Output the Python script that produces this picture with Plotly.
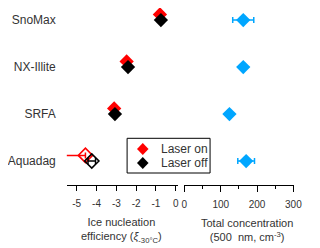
import plotly.graph_objects as go

# ---- data ----
categories = ["Aquadag", "SRFA", "NX-Illite", "SnoMax"]
ine_laser_on = [-4.56, -3.11, -2.48, -0.80]
ine_laser_on_err_minus = [1.07, 0, 0, 0]
ine_laser_off = [-4.24, -3.07, -2.41, -0.75]
ine_laser_off_err = [0.19, 0, 0, 0]
total_conc = [170, 124, 162, 162]
total_conc_err = [23, 0, 0, 29]
ine_ticks = [-5, -4, -3, -2, -1, 0]
conc_ticks = [0, 100, 200, 300]
conc_minor = [50, 150, 250]

OFF = 8  # default page margin of the html body
W, H = 320 - OFF, 248 - OFF
FONT = "Liberation Sans, Arial, sans-serif"
TXT = "#333333"
RED = "#FF0000"
BLUE = "#00A6FF"


def px(x):
    return (x - OFF) / W


def py(y):
    return 1 - (y - OFF) / H


def diamond_path(cx, cy, r):
    pts = [(cx, cy - r), (cx + r, cy), (cx, cy + r), (cx - r, cy)]
    return "M " + " L ".join(f"{px(a):.5f},{py(b):.5f}" for a, b in pts) + " Z"


ypos = list(range(len(categories)))
off = 0.12
symbols = ["diamond-open" if i == 0 else "diamond" for i in ypos]
lw = [1.6 if i == 0 else 0 for i in ypos]

fig = go.Figure()

fig.add_trace(go.Scatter(
    x=ine_laser_on, y=[v + off for v in ypos], mode="markers",
    marker=dict(symbol=symbols, size=11, color=RED, line=dict(width=lw, color=RED)),
    error_x=dict(type="data", symmetric=False, array=[0] * 4,
                 arrayminus=ine_laser_on_err_minus, color=RED, thickness=1.5, width=3),
    xaxis="x", yaxis="y", cliponaxis=False, showlegend=False))

fig.add_trace(go.Scatter(
    x=ine_laser_off, y=ypos, mode="markers",
    marker=dict(symbol=symbols, size=11, color="black", line=dict(width=lw, color="#444444")),
    error_x=dict(type="data", array=ine_laser_off_err, color="black", thickness=1.5, width=3),
    xaxis="x", yaxis="y", cliponaxis=False, showlegend=False))

fig.add_trace(go.Scatter(
    x=total_conc, y=ypos, mode="markers",
    marker=dict(symbol="diamond", size=11, color=BLUE),
    error_x=dict(type="data", array=total_conc_err, color=BLUE, thickness=1.5, width=3),
    xaxis="x2", yaxis="y", cliponaxis=False, showlegend=False))

axis_common = dict(showline=True, linecolor="black", linewidth=1, ticks="outside",
                   tickcolor="black", tickwidth=1, showgrid=False, zeroline=False,
                   anchor="y", ticklabelstandoff=4,
                   tickfont=dict(size=10, color=TXT, family=FONT))

fig.update_layout(
    width=W, height=H, margin=dict(l=0, r=0, t=0, b=0),
    paper_bgcolor="white", plot_bgcolor="white",
    font=dict(family=FONT, color=TXT),
    xaxis=dict(domain=[px(65), px(181)], range=[-5.5, 0.13], tickvals=ine_ticks,
               ticktext=[str(t) for t in ine_ticks], ticklen=5, **axis_common),
    xaxis2=dict(domain=[px(187), px(301)], range=[-0.8, 301], tickvals=conc_ticks,
                ticktext=[str(t) for t in conc_ticks], ticklen=6,
                minor=dict(tickvals=conc_minor, ticklen=3, ticks="outside",
                           tickcolor="black", tickwidth=1, showgrid=False),
                **axis_common),
    yaxis=dict(domain=[py(185), 1], range=[-0.51, 3.256], tickvals=ypos,
               ticktext=categories, showline=False, ticks="", showgrid=False,
               zeroline=False, ticklabelstandoff=10,
               tickfont=dict(size=12, color=TXT, family=FONT)),
    shapes=[
        dict(type="rect", xref="paper", yref="paper",
             x0=px(127.7), x1=px(214), y0=py(173), y1=py(138.3),
             line=dict(color="black", width=1), fillcolor="rgba(0,0,0,0)"),
        dict(type="path", xref="paper", yref="paper", path=diamond_path(144, 149, 6),
             fillcolor=RED, line=dict(width=0)),
        dict(type="path", xref="paper", yref="paper", path=diamond_path(144, 163, 6),
             fillcolor="black", line=dict(width=0)),
    ],
    annotations=[
        dict(text="Laser on", xref="paper", yref="paper", x=px(161), y=py(149),
             xanchor="left", yanchor="middle", showarrow=False,
             font=dict(size=12, color=TXT, family=FONT)),
        dict(text="Laser off", xref="paper", yref="paper", x=px(161), y=py(163),
             xanchor="left", yanchor="middle", showarrow=False,
             font=dict(size=12, color=TXT, family=FONT)),
        dict(text="Ice nucleation<br>efficiency (<i>ξ</i><sub>-30°C</sub>)",
             xref="paper", yref="paper", x=px(122), y=py(230),
             xanchor="center", yanchor="middle", showarrow=False,
             font=dict(size=11, color=TXT, family=FONT)),
        dict(text="Total concentration<br>(500  nm, cm<sup>-3</sup>)",
             xref="paper", yref="paper", x=px(252), y=py(230),
             xanchor="center", yanchor="middle", showarrow=False,
             font=dict(size=11, color=TXT, family=FONT)),
    ],
)

fig.write_html("out.html")
